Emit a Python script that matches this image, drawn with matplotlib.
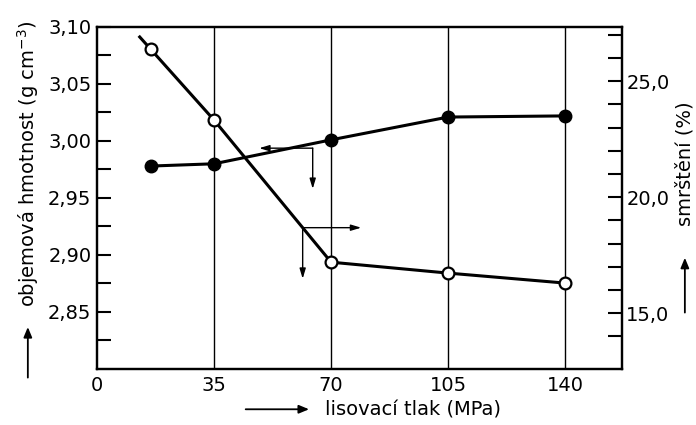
import numpy as np
import matplotlib
matplotlib.use("Agg")
from matplotlib import pyplot as plt

# pressing pressure (MPa)
tlak = [16, 35, 70, 105, 140]
# bulk density (g cm-3), left axis, filled markers
hmotnost = [2.978, 2.980, 3.001, 3.021, 3.022]
# shrinkage (%), right axis, open markers
smrsteni = [26.38, 23.32, 17.2, 16.73, 16.3]

x_ticks = [0, 35, 70, 105, 140]
left_major = [2.85, 2.90, 2.95, 3.00, 3.05, 3.10]
right_major = [15.0, 20.0, 25.0]

plt.rcParams['font.family'] = 'DejaVu Sans'

fig = plt.figure(figsize=(6.96, 4.25), dpi=100)
ax = fig.add_axes([0.1394, 0.1318, 0.7543, 0.8047])
ax2 = ax.twinx()

ax.set_xlim(0, 157)
ax.set_ylim(2.80, 3.10)
ax2.set_ylim(12.6, 27.33)

# vertical grid lines
for xv in x_ticks[1:]:
    ax.axvline(xv, color='black', lw=1.0, zorder=1)

# density line
ax.plot(tlak, hmotnost, color='black', lw=2.2, marker='o', ms=9,
        mfc='black', mec='black', zorder=3)

# shrinkage line, first segment drawn a little past the first point
t = 0.17
x_start = tlak[0] - t * (tlak[1] - tlak[0])
y_start = smrsteni[0] - t * (smrsteni[1] - smrsteni[0])
ax2.plot([x_start] + tlak, [y_start] + smrsteni, color='black', lw=2.2, zorder=3)
ax2.plot(tlak, smrsteni, ls='none', marker='o', ms=8.5, mfc='white',
         mec='black', mew=1.6, zorder=4)

arrow = dict(arrowstyle='-|>,head_length=0.6,head_width=0.18', color='black',
             lw=1.0, shrinkA=0, shrinkB=0)

# arrows for density curve -> left axis
xa = 64.5
ya = np.interp(xa, tlak, hmotnost) - 0.004
ax.annotate('', xy=(48.5, ya), xytext=(xa, ya), arrowprops=arrow)
ax.annotate('', xy=(xa, 2.958), xytext=(xa, ya), arrowprops=arrow)

# arrows for shrinkage curve -> right axis
xb = 61.5
yb = np.interp(xb, tlak, smrsteni)
ax2.annotate('', xy=(79, yb), xytext=(xb, yb), arrowprops=arrow)
ax2.annotate('', xy=(xb, yb - 2.2), xytext=(xb, yb), arrowprops=arrow)

# ticks
ax.set_xticks(x_ticks)
ax.set_xticklabels([str(v) for v in x_ticks], fontsize=14)
ax.tick_params(axis='x', length=0, pad=5)

ax.set_yticks(left_major)
ax.set_yticklabels([f'{v:.2f}'.replace('.', ',') for v in left_major], fontsize=14)
ax.set_yticks(np.arange(2.825, 3.10, 0.05), minor=True)
ax.tick_params(axis='y', which='both', direction='in', length=10, width=1.5, pad=4)

ax2.set_yticks(np.arange(14, 28, 1.0))
ax2.set_yticklabels([f'{v:.1f}'.replace('.', ',') if v in right_major else ''
                     for v in np.arange(14, 28, 1.0)], fontsize=14)
ax2.tick_params(axis='y', direction='in', length=10, width=1.5, pad=3)

for a in (ax, ax2):
    for s in a.spines.values():
        s.set_linewidth(1.6)

# axis titles with arrows
fig.text(0.040, 0.615, r'objemová hmotnost (g cm$^{-3}$)', rotation=90,
         ha='center', va='center', fontsize=14)
fig.patches.append(matplotlib.patches.FancyArrowPatch(
    (0.040, 0.105), (0.040, 0.237), transform=fig.transFigure,
    arrowstyle='-|>,head_length=6,head_width=2.5', color='black', lw=1.3))

fig.text(0.984, 0.616, 'smrštění (%)', rotation=90,
         ha='center', va='center', fontsize=14)
fig.patches.append(matplotlib.patches.FancyArrowPatch(
    (0.984, 0.258), (0.984, 0.40), transform=fig.transFigure,
    arrowstyle='-|>,head_length=6,head_width=2.5', color='black', lw=1.3))

fig.text(0.467, 0.035, 'lisovací tlak (MPa)', ha='left', va='center', fontsize=14)
fig.patches.append(matplotlib.patches.FancyArrowPatch(
    (0.349, 0.037), (0.448, 0.037), transform=fig.transFigure,
    arrowstyle='-|>,head_length=6,head_width=2.5', color='black', lw=1.3))

fig.savefig('out.png', dpi=100)
